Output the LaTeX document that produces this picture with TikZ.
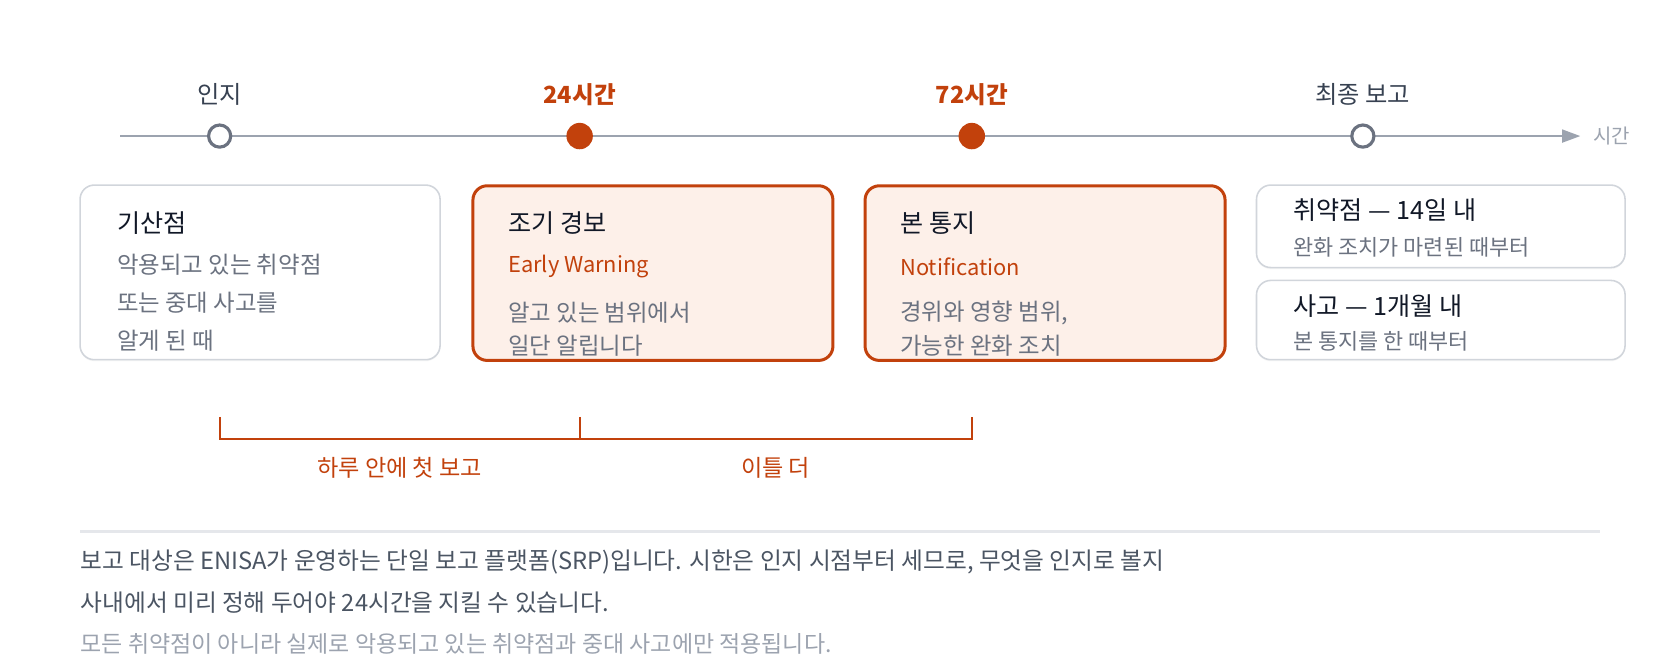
\documentclass[tikz,border=0pt]{standalone}
\usepackage{fontspec}
\setmainfont{Noto Sans CJK KR}
\usetikzlibrary{arrows.meta,shadows}
\definecolor{orng}{HTML}{C2410C}
\definecolor{peach}{HTML}{FDF0E9}
\definecolor{ink}{HTML}{111827}
\definecolor{inkb}{HTML}{374151}
\definecolor{mute}{HTML}{6B7280}
\definecolor{axisc}{HTML}{9CA3AF}
\definecolor{boxg}{HTML}{D1D5DB}
\definecolor{sepc}{HTML}{E5E7EB}
\definecolor{note}{HTML}{4B5563}
\tikzset{
  lbl/.style={inner sep=0pt, text=inkb, font=\fontsize{17}{20}\selectfont},
  lblhot/.style={inner sep=0pt, text=orng, font=\fontsize{16.5}{20}\selectfont\bfseries},
  axislbl/.style={inner sep=0pt, anchor=west, text=axisc, font=\fontsize{14}{16}\selectfont},
  axisline/.style={draw=axisc, line width=1.5pt},
  dotopen/.style={circle, draw=mute, fill=white, line width=2.2pt, minimum size=15.5pt, inner sep=0pt},
  dotfill/.style={circle, fill=orng, minimum size=18.5pt, inner sep=0pt},
  softshadow/.style={drop shadow={opacity=0.06, shadow xshift=0pt, shadow yshift=-1.2pt}},
  graybox/.style={rectangle, rounded corners=10pt, draw=boxg, line width=1.1pt, fill=white, anchor=north west, inner sep=0pt, softshadow},
  hotbox/.style={rectangle, rounded corners=10pt, draw=orng, line width=2.1pt, fill=peach, anchor=north west, inner sep=0pt, softshadow},
  ttl/.style={inner sep=0pt, anchor=west, text=ink, font=\fontsize{17.6}{20}\selectfont},
  bdy/.style={inner sep=0pt, anchor=west, text=mute, font=\fontsize{16.4}{19}\selectfont},
  eng/.style={inner sep=0pt, anchor=west, text=orng, font=\fontsize{15.3}{18}\selectfont},
  sub/.style={inner sep=0pt, anchor=west, text=mute, font=\fontsize{15.3}{18}\selectfont},
  brk/.style={draw=orng, line width=1.6pt},
  brklbl/.style={inner sep=0pt, text=orng, font=\fontsize{16.2}{19}\selectfont},
  sepline/.style={draw=sepc, line width=1.5pt},
  notetxt/.style={inner sep=0pt, anchor=west, text=note, font=\fontsize{16.6}{19}\selectfont},
  notelight/.style={inner sep=0pt, anchor=west, text=axisc, font=\fontsize{16.1}{19}\selectfont},
}
\begin{document}
\begin{tikzpicture}[x=0.75pt, y=-0.75pt]
\useasboundingbox (0,0) rectangle (1568,620);
% timeline axis
\coordinate (a0) at (112,127);
\coordinate (a1) at (1475,127);
\draw[axisline, -{Triangle[length=12.75pt, width=9pt]}] (a0) -- (a1);
\node[axislbl] (tl) at (1487,127) {시간};
% milestones
\node[dotopen] (p1) at (205,127) {};
\node[dotfill] (p2) at (541,127) {};
\node[dotfill] (p3) at (907,127) {};
\node[dotopen] (p4) at (1272,127) {};
\node[lbl] (l1) at (205,88) {인지};
\node[lblhot] (l2) at (541,88) {24시간};
\node[lblhot] (l3) at (907,88) {72시간};
\node[lbl] (l4) at (1272,88) {최종 보고};
% box 1
\node[graybox, minimum width=252pt, minimum height=122.25pt] (b1) at (74,172) {};
\node[ttl] (b1t) at (109,208) {기산점};
\node[bdy] (b1a) at (109,247) {악용되고 있는 취약점};
\node[bdy] (b1b) at (109,283) {또는 중대 사고를};
\node[bdy] (b1c) at (109,318) {알게 된 때};
% box 2
\node[hotbox, minimum width=252pt, minimum height=122.25pt] (b2) at (440,172) {};
\node[ttl] (b2t) at (474,208) {조기 경보};
\node[eng] (b2e) at (474,249) {Early Warning};
\node[bdy] (b2a) at (474,292) {알고 있는 범위에서};
\node[bdy] (b2b) at (474,323) {일단 알립니다};
% box 3
\node[hotbox, minimum width=252pt, minimum height=122.25pt] (b3) at (806,172) {};
\node[ttl] (b3t) at (840,208) {본 통지};
\node[eng] (b3e) at (840,249) {Notification};
\node[bdy] (b3a) at (840,292) {경위와 영향 범위,};
\node[bdy] (b3b) at (840,323) {가능한 완화 조치};
% box 4 and 5
\node[graybox, minimum width=258pt, minimum height=57.75pt] (b4) at (1172,172) {};
\node[ttl] (b4t) at (1207,196) {취약점 — 14일 내};
\node[sub] (b4a) at (1207,231) {완화 조치가 마련된 때부터};
\node[graybox, minimum width=258pt, minimum height=55.5pt] (b5) at (1172,261) {};
\node[ttl] (b5t) at (1207,286) {사고 — 1개월 내};
\node[sub] (b5a) at (1207,319) {본 통지를 한 때부터};
% bracket
\coordinate (k1) at (205,389);
\coordinate (k2) at (541,389);
\coordinate (k3) at (907,389);
\coordinate (k2b) at (541,410);
\draw[brk] (k1) |- (k2b) -| (k3);
\draw[brk] (k2) -- (k2b);
\node[brklbl] (g1) at (373,437) {하루 안에 첫 보고};
\node[brklbl] (g2) at (724,437) {이틀 더};
% separator and notes
\coordinate (s0) at (75,496);
\coordinate (s1) at (1493,496);
\draw[sepline] (s0) -- (s1);
\node[notetxt] (n1) at (75,525) {보고 대상은 ENISA가 운영하는 단일 보고 플랫폼(SRP)입니다. 시한은 인지 시점부터 세므로, 무엇을 인지로 볼지};
\node[notetxt] (n2) at (75,562) {사내에서 미리 정해 두어야 24시간을 지킬 수 있습니다.};
\node[notelight] (n3) at (75,601) {모든 취약점이 아니라 실제로 악용되고 있는 취약점과 중대 사고에만 적용됩니다.};
\end{tikzpicture}
\end{document}
